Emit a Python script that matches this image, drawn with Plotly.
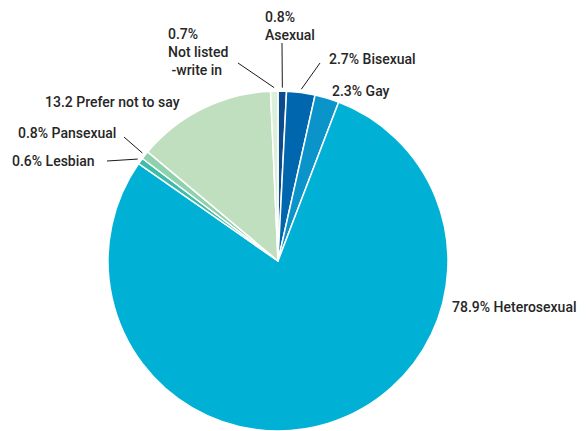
import math
import plotly.graph_objects as go

# Survey responses: sexual orientation (% of respondents)
categories = ["Asexual", "Bisexual", "Gay", "Heterosexual", "Lesbian",
              "Pansexual", "Prefer not to say", "Not listed -write in"]
shares = [0.8, 2.7, 2.3, 78.9, 0.6, 0.8, 13.2, 0.7]
label_texts = [
    "0.8%<br>Asexual",
    "2.7% Bisexual",
    "2.3% Gay",
    "78.9% Heterosexual",
    "0.6% Lesbian",
    "0.8% Pansexual",
    "13.2 Prefer not to say",
    "0.7%<br>Not listed<br>\u00a0-write in",
]
colors = ["#0c4b8c", "#0067ae", "#0a94c9", "#00b1d5",
          "#3fbca9", "#8fd0ad", "#bfdfbf", "#dcefdb"]

W, H = 587, 431
CX, CY, R = 278, 261, 170  # pie centre and radius in pixels

fig = go.Figure(go.Pie(
    labels=categories,
    values=shares,
    sort=False,
    direction="clockwise",
    rotation=0,
    textinfo="none",
    hoverinfo="label+percent",
    marker=dict(colors=colors, line=dict(color="white", width=1.5)),
    domain=dict(x=[(CX - R) / W, (CX + R) / W],
                y=[(H - CY - R) / H, (H - CY + R) / H]),
    showlegend=False,
))

# label placement: (left x, centre y) in pixels, plus the outer end of a leader line
label_pos = {
    "Asexual": (263, 26, (282, 43)),
    "Bisexual": (327, 59, (320, 63)),
    "Gay": (330, 91, None),
    "Heterosexual": (450, 307, None),
    "Lesbian": (10, 161, (107, 161)),
    "Pansexual": (16, 133, (124, 137)),
    "Prefer not to say": (43, 102, None),
    "Not listed -write in": (166, 52, (238, 63)),
}

def px_to_paper(x, y):
    return x / W, 1 - y / H

annotations, shapes = [], []
total = sum(shares)
cum = 0.0
for cat, val, txt in zip(categories, shares, label_texts):
    mid = (cum + val / 2) / total * 2 * math.pi
    cum += val
    lx, ly, lead = label_pos[cat]
    ax, ay = px_to_paper(lx, ly)
    annotations.append(dict(
        x=ax, y=ay, xref="paper", yref="paper", text=txt,
        showarrow=False, xanchor="left", yanchor="middle", align="left",
        font=dict(family="Roboto", size=14, color="#262626", weight=500),
    ))
    if lead:
        rr = R * 1.02
        px = CX + rr * math.sin(mid)
        py = CY - rr * math.cos(mid)
        x0, y0 = px_to_paper(*lead)
        x1, y1 = px_to_paper(px, py)
        shapes.append(dict(type="line", xref="paper", yref="paper",
                           x0=x0, y0=y0, x1=x1, y1=y1,
                           line=dict(color="#1a1a1a", width=1)))

fig.update_layout(
    width=W, height=H,
    margin=dict(l=0, r=0, t=0, b=0),
    paper_bgcolor="white",
    plot_bgcolor="white",
    annotations=annotations,
    shapes=shapes,
)

fig.write_html("out.html")
